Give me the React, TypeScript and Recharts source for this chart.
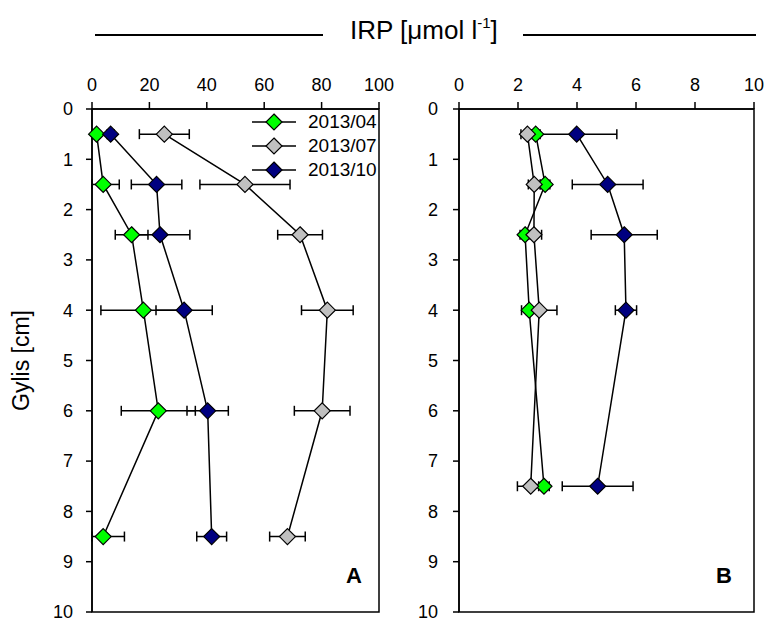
import { ScatterChart, Scatter, XAxis, YAxis, ErrorBar, ReferenceArea, Legend } from 'recharts';

const seasons = ['2013/04', '2013/07', '2013/10'];
const seasonColors = ['#00ff00', '#c0c0c0', '#000080'];

// Panel A – depths and IRP (µmol/l), mean ± SD
const depthA = [0.5, 1.5, 2.5, 4, 6, 8.5];
const aprA = [1.6, 3.9, 13.8, 17.9, 23.1, 3.9];
const aprAErr = [4, 5.6, 5.7, 14.8, 12.9, 7.4];
const julA = [25.2, 53.3, 72.5, 82, 80.2, 68.1];
const julAErr = [8.7, 15.7, 7.8, 9, 9.7, 6.2];
const octA = [6.5, 22.5, 23.7, 32.1, 40.3, 41.7];
const octAErr = [1.2, 8.8, 10.4, 9.8, 7.2, 5.2];

// Panel B
const depthB = [0.5, 1.5, 2.5, 4, 7.5];
const aprB = [2.6, 2.92, 2.24, 2.38, 2.88];
const aprBErr = [0.15, 0.16, 0.17, 0.1, 0.18];
const julB = [2.32, 2.55, 2.54, 2.72, 2.43];
const julBErr = [0.22, 0.2, 0.26, 0.6, 0.45];
const octB = [3.99, 5.04, 5.6, 5.66, 4.7];
const octBErr = [1.36, 1.2, 1.12, 0.36, 1.2];

const ticksA = [0, 20, 40, 60, 80, 100];
const ticksB = [0, 2, 4, 6, 8, 10];
const depthTicks = [0, 1, 2, 3, 4, 5, 6, 7, 8, 9, 10];

// error bars are cut off at the x = 0 axis
const rows = (depth: number[], vals: number[], errs: number[]) =>
  depth.map((d, i) => ({ x: vals[i], y: d, err: [Math.min(errs[i], vals[i]), errs[i]] }));

const FONT = 'Arial, "Liberation Sans", sans-serif';
const AXIS_H = 30;
const AXIS_W = 40;

const Diamond = (props: any) => {
  const { cx, cy, fill } = props;
  const r = 8;
  return (
    <polygon
      points={`${cx},${cy - r} ${cx + r},${cy} ${cx},${cy + r} ${cx - r},${cy}`}
      fill={fill}
      stroke="#000"
      strokeWidth={1.2}
    />
  );
};

const LegendBox = () => (
  <div style={{ fontSize: 19, fontFamily: FONT, color: '#000' }}>
    {seasons.map((s, i) => (
      <div key={s} style={{ display: 'flex', alignItems: 'center', height: 24 }}>
        <svg width={44} height={18}>
          <line x1={0} y1={9} x2={44} y2={9} stroke="#000" strokeWidth={1.5} />
          <polygon points="22,1 30,9 22,17 14,9" fill={seasonColors[i]} stroke="#000" strokeWidth={1.2} />
        </svg>
        <span style={{ marginLeft: 12 }}>{s}</span>
      </div>
    ))}
  </div>
);

interface PanelProps {
  left: number;
  width: number;
  plotLeft: number;
  plotRight: number;
  xMax: number;
  xTicks: number[];
  yTickMargin: number;
  series: { x: number; y: number; err: number[] }[][];
  legend?: boolean;
  yLabel?: boolean;
}

function Panel({ left, width, plotLeft, plotRight, xMax, xTicks, yTickMargin, series, legend, yLabel }: PanelProps) {
  const tick = { fontSize: 18, fill: '#000', fontFamily: FONT };
  // plot box spans y 109..612
  const margin = { top: 109 - AXIS_H, bottom: 9, left: plotLeft - left - AXIS_W, right: left + width - plotRight };
  return (
    <div style={{ position: 'absolute', left, top: 0 }}>
      <ScatterChart width={width} height={621} margin={margin}>
        <XAxis
          type="number"
          dataKey="x"
          orientation="top"
          domain={[0, xMax]}
          ticks={xTicks}
          interval={0}
          height={AXIS_H}
          tickSize={7}
          tickMargin={11}
          tick={tick}
          axisLine={{ stroke: '#000', strokeWidth: 1.5 }}
          tickLine={{ stroke: '#000', strokeWidth: 1.5 }}
        />
        <YAxis
          type="number"
          dataKey="y"
          reversed
          domain={[0, 10]}
          ticks={depthTicks}
          interval={0}
          width={AXIS_W}
          tickSize={6}
          tickMargin={yTickMargin}
          tick={tick}
          axisLine={{ stroke: '#000', strokeWidth: 1.5 }}
          tickLine={{ stroke: '#000', strokeWidth: 1.5 }}
          label={
            yLabel
              ? (p: any) => {
                  const vb = p.viewBox;
                  const cy = vb.y + vb.height / 2;
                  return (
                    <text x={29} y={cy} transform={`rotate(-90 29 ${cy})`} textAnchor="middle" fontSize={23} fontFamily={FONT} fill="#000">
                      Gylis [cm]
                    </text>
                  );
                }
              : undefined
          }
        />
        <ReferenceArea x1={0} x2={xMax} y1={0} y2={10} fill="none" stroke="#000" strokeWidth={1.5} ifOverflow="visible" />
        {series.map((data, i) => (
          <Scatter
            key={seasons[i]}
            name={seasons[i]}
            data={data}
            fill={seasonColors[i]}
            stroke="#000"
            shape={Diamond}
            line={{ stroke: '#000', strokeWidth: 1.5 }}
            isAnimationActive={false}
          >
            <ErrorBar dataKey="err" direction="x" width={5} stroke="#000" strokeWidth={1.5} />
          </Scatter>
        ))}
        {legend && (
          <Legend
            layout="vertical"
            align="center"
            verticalAlign="middle"
            content={LegendBox}
            wrapperStyle={{ left: 252, top: 110, width: 140 }}
          />
        )}
      </ScatterChart>
    </div>
  );
}

export default function App() {
  return (
    <div style={{ position: 'absolute', left: 0, top: 0, width: 765, height: 621, background: '#fff', fontFamily: FONT }}>
      <svg width={765} height={60} style={{ position: 'absolute', left: 0, top: 0 }}>
        <line x1={95} y1={35} x2={323} y2={35} stroke="#000" strokeWidth={2} />
        <line x1={523} y1={35} x2={756} y2={35} stroke="#000" strokeWidth={2} />
        <text x={350} y={39} fontSize={26} fontFamily={FONT} fill="#000">
          IRP [μmol l
          <tspan fontSize={15} dy={-11}>-1</tspan>
          <tspan dy={11}>]</tspan>
        </text>
      </svg>
      <Panel
        left={0}
        width={400}
        plotLeft={92}
        plotRight={379}
        xMax={100}
        xTicks={ticksA}
        yTickMargin={13}
        yLabel
        legend
        series={[rows(depthA, aprA, aprAErr), rows(depthA, julA, julAErr), rows(depthA, octA, octAErr)]}
      />
      <Panel
        left={400}
        width={365}
        plotLeft={459}
        plotRight={754}
        xMax={10}
        xTicks={ticksB}
        yTickMargin={15}
        series={[rows(depthB, aprB, aprBErr), rows(depthB, julB, julBErr), rows(depthB, octB, octBErr)]}
      />
      <div style={{ position: 'absolute', left: 346, top: 563, fontSize: 22, fontWeight: 'bold' }}>A</div>
      <div style={{ position: 'absolute', left: 716, top: 563, fontSize: 22, fontWeight: 'bold' }}>B</div>
    </div>
  );
}
